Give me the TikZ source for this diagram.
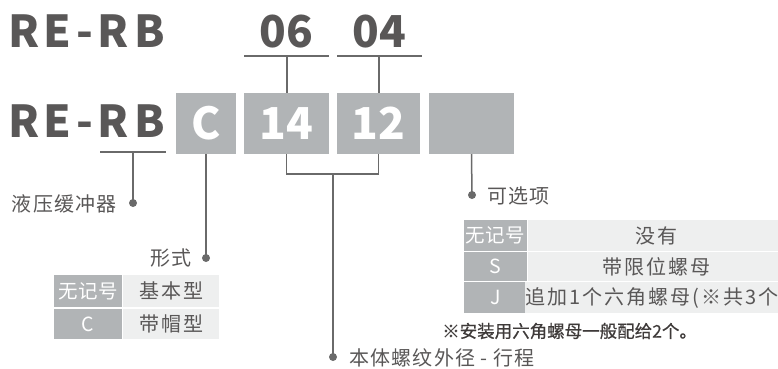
\documentclass[tikz,border=0pt]{standalone}
\usepackage{fontspec}
\setmainfont{Noto Sans CJK SC}
\definecolor{titlegray}{HTML}{595757}
\definecolor{boxgray}{HTML}{B1B4B6}
\definecolor{cellgray}{HTML}{EEEFEF}
\definecolor{linegray}{HTML}{6A6A6A}
\definecolor{labelgray}{HTML}{595757}
\definecolor{notegray}{HTML}{3E3A39}
\begin{document}
\begin{tikzpicture}[x=1pt,y=-1pt,
  titlech/.style={font=\fontsize{44}{44}\selectfont\bfseries, text=titlegray, inner sep=0, anchor=base},
  codebox/.style={fill=boxgray, inner sep=0, text=white, font=\fontsize{44}{44}\selectfont\bfseries},
  conn/.style={draw=linegray, line width=1.5pt},
  dot/.style={circle, fill=linegray, inner sep=0, minimum size=8pt},
  lbl/.style={font=\fontsize{20}{21}\selectfont\addfontfeature{LetterSpace=6}, text=labelgray, inner sep=0},
  keycell/.style={fill=boxgray, inner sep=0, text=white, font=\fontsize{19.5}{20}\selectfont\addfontfeature{LetterSpace=3}},
  valcell/.style={fill=cellgray, inner sep=0, text=labelgray, font=\fontsize{20}{21}\selectfont\addfontfeature{LetterSpace=10}},
  note/.style={font=\fontsize{17.5}{18}\selectfont\addfontfeature{FakeBold=0.6}, text=notegray, inner sep=0, anchor=west}
]
\useasboundingbox (0,0) rectangle (778,368);
\clip (0,0) rectangle (778,368);

% row 1 title
\foreach \c/\x [count=\i] in {R/24,E/57.5,-/84.5,R/113.5,B/149.5}
  \node[titlech] (ta\i) at (\x,47) {\c};
\node[titlech] (d06a) at (273.3,47) {0};
\node[titlech] (d06b) at (300.3,47) {6};
\node[titlech] (d04a) at (366,47) {0};
\node[titlech] (d04b) at (392.5,47) {4};

% row 2 title
\foreach \c/\x [count=\i] in {R/24,E/57.5,-/84.5,R/113.5,B/149.5}
  \node[titlech] (tb\i) at (\x,137) {\c};
\node[codebox, minimum width=60pt, minimum height=61pt] (bC) at (206,123.5) {C};
\node[codebox, minimum width=85pt, minimum height=61pt] (b14) at (286.5,123.5) {14};
\node[codebox, minimum width=83pt, minimum height=61pt] (b12) at (378.5,123.5) {12};
\node[codebox, minimum width=85pt, minimum height=61pt] (bX) at (471.5,123.5) {};

% lines under 06 / 04
\coordinate (u06) at (287,56);
\coordinate (u04) at (379,56);
\draw[conn] ([xshift=-43pt]u06) -- ([xshift=42pt]u06);
\draw[conn] ([xshift=-42pt]u04) -- ([xshift=43pt]u04);
\draw[conn] (u06) -- (u06 |- b14.north);
\draw[conn] (u04) -- (u04 |- b12.north);

% RB underline
\coordinate (uRB) at (133,152);
\draw[conn] ([xshift=-33pt]uRB) -- ([xshift=33pt]uRB);
\node[dot] (d1) at (133,203) {};
\draw[conn] (uRB) -- (d1.center);
\node[lbl, anchor=east] (l1) at (117,204) {液压缓冲器};

% form C
\node[dot] (d2) at (206,258) {};
\draw[conn] (bC.south) -- (d2.center);
\node[lbl, anchor=east] (l2) at (192,258) {形式};

% table 1
\node[keycell, minimum width=68pt, minimum height=32pt] (k11) at (88,291) {无记号};
\node[valcell, minimum width=96pt, minimum height=32pt] (v11) at (171,291) {基本型};
\node[keycell, minimum width=68pt, minimum height=30pt] (k12) at (88,324) {C};
\node[valcell, minimum width=96pt, minimum height=30pt] (v12) at (171,324) {带帽型};

% size bracket
\coordinate (bm) at (333,174);
\draw[conn] (b14.south) |- (bm) -| (b12.south);
\node[dot] (d3) at (333,357) {};
\draw[conn] (bm) -- (d3.center);
\node[lbl, anchor=west] (l3) at (349,358) {本体螺纹外径 - 行程};

% option
\node[dot] (d4) at (472,195) {};
\draw[conn] (bX.south) -- (d4.center);
\node[lbl, anchor=west] (l4) at (487,196) {可选项};

% table 2
\node[keycell, minimum width=63pt, minimum height=31pt] (k21) at (495.5,235.5) {无记号};
\node[valcell, minimum width=256pt, minimum height=31pt] (v21) at (656,235.5) {没有};
\node[keycell, minimum width=63pt, minimum height=29pt] (k22) at (495.5,266.5) {S};
\node[valcell, minimum width=256pt, minimum height=29pt] (v22) at (656,266.5) {带限位螺母};
\node[keycell, minimum width=63pt, minimum height=31pt] (k23) at (495.5,297.5) {J};
\node[valcell, minimum width=256pt, minimum height=31pt] (v23) at (656,297.5) {追加1个六角螺母(※共3个)};

\node[note] (n1) at (442,331) {※安装用六角螺母一般配给2个。};
\end{tikzpicture}
\end{document}
